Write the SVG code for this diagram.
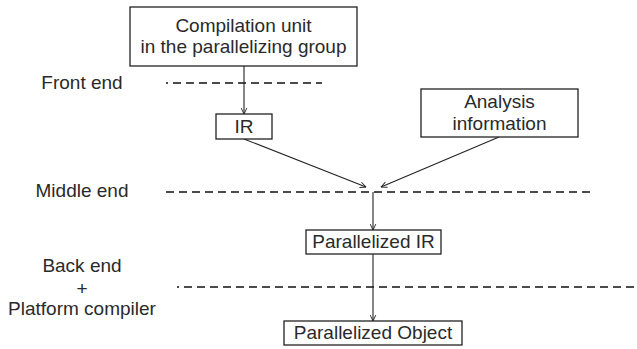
<svg xmlns="http://www.w3.org/2000/svg" width="637" height="349" viewBox="0 0 637 349">
  <style>
    .box { fill: #ffffff; stroke: #222222; stroke-width: 1.3; }
    .lbl { font-family: "Liberation Sans", Arial, sans-serif; font-size: 19px; fill: #2a2a2a; text-anchor: middle; }
    .stage { stroke: #111111; stroke-width: 1.6; stroke-dasharray: 8 5; fill: none; }
    .flow { stroke: #222222; stroke-width: 1.1; fill: none; marker-end: url(#arrow); }
  </style>
  <defs>
    <marker id="arrow" viewBox="0 0 10 10" refX="9.5" refY="5" markerWidth="7" markerHeight="7" markerUnits="userSpaceOnUse" orient="auto">
      <path d="M1,1 L9.5,5 L1,9" fill="none" stroke="#222222" stroke-width="1.3"/>
    </marker>
  </defs>

  <!-- stage labels -->
  <g id="stage-labels">
    <text class="lbl" x="82" y="89">Front end</text>
    <text class="lbl" x="82" y="197">Middle end</text>
    <text class="lbl" x="82" y="272">Back end</text>
    <text class="lbl" x="82" y="295">+</text>
    <text class="lbl" x="82" y="315">Platform compiler</text>
  </g>

  <!-- stage boundaries -->
  <g id="stage-lines">
    <line class="stage" x1="166" y1="83" x2="322" y2="83" stroke-dashoffset="6"/>
    <line class="stage" x1="166" y1="192" x2="594" y2="192"/>
    <line class="stage" x1="177" y1="287" x2="637" y2="287" stroke-dashoffset="6"/>
  </g>

  <!-- connectors -->
  <g id="connectors">
    <line class="flow" x1="244" y1="66" x2="244" y2="114"/>
    <line class="flow" x1="244" y1="139" x2="366" y2="187"/>
    <line class="flow" x1="499" y1="137" x2="381" y2="187"/>
    <line class="flow" x1="373" y1="192" x2="373" y2="230"/>
    <line class="flow" x1="373" y1="254" x2="373" y2="321"/>
  </g>

  <g id="compilation-unit">
    <rect class="box" x="130" y="7" width="227" height="59"/>
    <text class="lbl" x="243.5" y="32">Compilation unit</text>
    <text class="lbl" x="243.5" y="53">in the parallelizing group</text>
  </g>

  <g id="ir">
    <rect class="box" x="216" y="114" width="56" height="25"/>
    <text class="lbl" x="244" y="133">IR</text>
  </g>

  <g id="analysis-information">
    <rect class="box" x="421" y="89" width="157" height="48"/>
    <text class="lbl" x="499.5" y="108">Analysis</text>
    <text class="lbl" x="499.5" y="130">information</text>
  </g>

  <g id="parallelized-ir">
    <rect class="box" x="306" y="230" width="135" height="24"/>
    <text class="lbl" x="373.5" y="248">Parallelized IR</text>
  </g>

  <g id="parallelized-object">
    <rect class="box" x="284" y="321" width="178" height="24"/>
    <text class="lbl" x="373" y="339">Parallelized Object</text>
  </g>
</svg>
